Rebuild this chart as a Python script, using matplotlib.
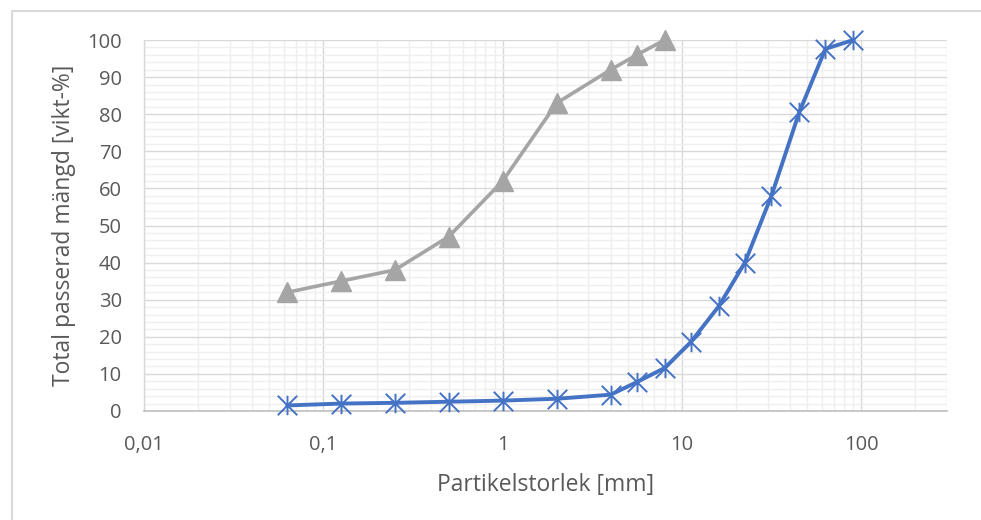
import numpy as np
import matplotlib
matplotlib.use("Agg")
import matplotlib.pyplot as plt
from matplotlib.path import Path
from matplotlib.lines import Line2D
from matplotlib.ticker import FixedLocator, LogLocator, MultipleLocator, FuncFormatter

plt.rcParams['font.family'] = ['Open Sans', 'DejaVu Sans']

# Sieve curves: particle size [mm] and cumulative passing [weight-%]
sizes_fine = [0.063, 0.125, 0.25, 0.5, 1, 2, 4, 5.6, 8]
passing_fine = [32, 35, 38, 47, 62, 83, 92, 96, 100]

sizes_coarse = [0.063, 0.125, 0.25, 0.5, 1, 2, 4, 5.6, 8, 11.2, 16, 22.4, 31.5, 45, 63, 90]
passing_coarse = [1.5, 2.0, 2.2, 2.5, 2.8, 3.3, 4.4, 7.8, 11.6, 18.6, 28.2, 40.0, 58.0, 80.5, 97.6, 100]

x_ticks = [0.01, 0.1, 1, 10, 100]
x_tick_labels = ["0,01", "0,1", "1", "10", "100"]
y_ticks = list(range(0, 101, 10))

TEXT = "#595959"
MAJOR = "#d9d9d9"
MINOR = "#efefef"

star = Path([(0, -1), (0, 1), (-1, -1), (1, 1), (-1, 1), (1, -1)],
            [Path.MOVETO, Path.LINETO, Path.MOVETO, Path.LINETO, Path.MOVETO, Path.LINETO])

W, H = 981, 520
fig = plt.figure(figsize=(W / 100, H / 100), dpi=100)
ax = fig.add_axes([144 / W, (H - 411) / H, (947 - 144) / W, (411 - 40) / H])

ax.set_xscale('log')
ax.set_xlim(0.01, 300)
ax.set_ylim(0, 100)

ax.xaxis.set_major_locator(FixedLocator(x_ticks))
ax.xaxis.set_major_formatter(FuncFormatter(
    lambda v, p: x_tick_labels[x_ticks.index(v)] if v in x_ticks else ""))
ax.xaxis.set_minor_locator(LogLocator(base=10, subs=np.arange(2, 10), numticks=20))
ax.xaxis.set_minor_formatter(FuncFormatter(lambda v, p: ""))
ax.yaxis.set_major_locator(FixedLocator(y_ticks))
ax.yaxis.set_minor_locator(MultipleLocator(2))

ax.grid(which='minor', color=MINOR, lw=1.0, zorder=0)
ax.grid(which='major', color=MAJOR, lw=1.0, zorder=0)
ax.set_axisbelow(True)

for s in ['top', 'right']:
    ax.spines[s].set_visible(False)
ax.spines['left'].set_color(MAJOR)
ax.spines['bottom'].set_color("#bfbfbf")
ax.spines['left'].set_linewidth(1.0)
ax.spines['bottom'].set_linewidth(1.2)

ax.tick_params(which='both', length=0, colors=TEXT, labelsize=14.5)
ax.tick_params(axis='y', pad=16)
ax.tick_params(axis='x', pad=17)

ax.plot(sizes_fine, passing_fine, color="#a5a5a5", lw=2.6, solid_joinstyle='round',
        marker='^', ms=14, mec="#a5a5a5", zorder=3, clip_on=False)

ax.plot(sizes_coarse, passing_coarse, color="#4472c4", lw=2.8, solid_joinstyle='round',
        marker=star, ms=14, mew=1.4, mec="#4472c4", zorder=5, clip_on=False)

ax.set_xlabel("Partikelstorlek [mm]", color=TEXT, fontsize=16.5, labelpad=13)
ax.set_ylabel("Total passerad mängd [vikt-%]", color=TEXT, fontsize=16.5, labelpad=8)

# Chart area frame (left and top edges)
fig.add_artist(Line2D([12 / W, 12 / W, 1.0], [0.0, 1 - 11 / H, 1 - 11 / H],
                      transform=fig.transFigure, color="#d9d9d9", lw=1.5))

fig.savefig("out.png", dpi=100)
